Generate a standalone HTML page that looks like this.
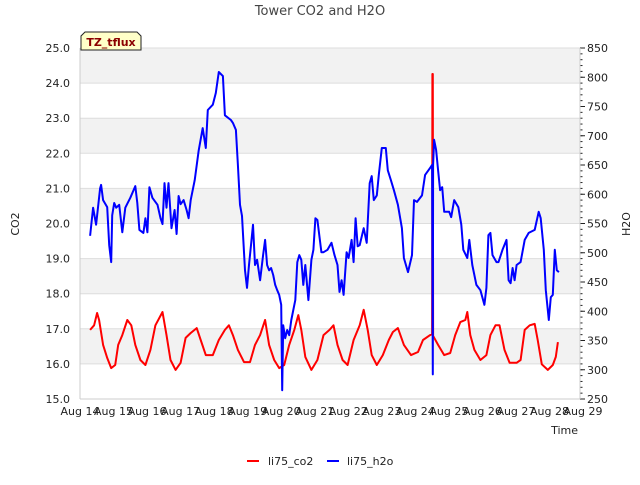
<!DOCTYPE html>
<html><head><meta charset="utf-8"><style>
body{margin:0;background:#fff;font-family:"Liberation Sans",sans-serif;}
svg text{font-family:"DejaVu Sans","Liberation Sans",sans-serif;}
</style></head><body>
<svg id="chart" width="640" height="480" viewBox="0 0 640 480">
<text x="320" y="15" text-anchor="middle" font-size="13" fill="#444">Tower CO2 and H2O</text>
<g id="bands"></g>
<g id="grid"></g>
<g id="series"></g>
<g id="axes"></g>
<text transform="translate(19,224) rotate(-90)" text-anchor="middle" font-size="11" fill="#222">CO2</text>
<text transform="translate(630,224) rotate(-90)" text-anchor="middle" font-size="11" fill="#222">H2O</text>
<text x="578" y="434" text-anchor="end" font-size="11" fill="#222">Time</text>
<g>
<path d="M81,50 L81,36 L85,32 L137,32 L141,36 L141,50 Z" fill="#ffffc8" stroke="#222" stroke-width="1"/>
<text x="111" y="46" text-anchor="middle" font-size="11" font-weight="bold" fill="#8b0000">TZ_tflux</text>
</g>
<g>
<g><line x1="247" y1="461" x2="259" y2="461" stroke="#f00" stroke-width="2"/><text x="268" y="465" font-size="11" fill="#222">li75_co2</text></g>
<g><line x1="327" y1="461" x2="339" y2="461" stroke="#00f" stroke-width="2"/><text x="347" y="465" font-size="11" fill="#222">li75_h2o</text></g>
</g>
</svg>
<script>
const xTickLabels=["Aug 14","Aug 15","Aug 16","Aug 17","Aug 18","Aug 19","Aug 20","Aug 21","Aug 22","Aug 23","Aug 24","Aug 25","Aug 26","Aug 27","Aug 28","Aug 29"];
const co2Ticks=[15,16,17,18,19,20,21,22,23,24,25];
const h2oTicks=[250,300,350,400,450,500,550,600,650,700,750,800,850];
const h2oDays=[0.30,0.39,0.48,0.60,0.63,0.69,0.81,0.87,0.93,0.96,1.02,1.08,1.17,1.26,1.35,1.50,1.65,1.71,1.77,1.89,1.95,2.01,2.07,2.16,2.31,2.40,2.46,2.52,2.58,2.64,2.73,2.82,2.88,2.94,3.00,3.09,3.18,3.24,3.30,3.42,3.54,3.66,3.75,3.81,3.96,4.05,4.14,4.26,4.32,4.50,4.56,4.65,4.71,4.77,4.83,4.92,4.98,5.04,5.10,5.16,5.22,5.28,5.37,5.46,5.52,5.58,5.64,5.70,5.76,5.82,5.88,5.94,6.00,6.03,6.06,6.12,6.18,6.24,6.30,6.42,6.48,6.54,6.60,6.66,6.72,6.81,6.90,6.96,7.02,7.08,7.20,7.26,7.38,7.50,7.59,7.68,7.74,7.80,7.86,7.95,8.01,8.10,8.16,8.22,8.28,8.34,8.46,8.55,8.64,8.70,8.76,8.85,8.91,9.00,9.12,9.18,9.27,9.36,9.48,9.60,9.66,9.78,9.90,9.96,10.05,10.20,10.29,10.44,10.50,10.52,10.53,10.56,10.62,10.68,10.74,10.80,10.86,10.92,11.01,11.07,11.16,11.28,11.37,11.43,11.55,11.61,11.70,11.82,11.94,12.06,12.12,12.18,12.24,12.30,12.42,12.48,12.60,12.72,12.78,12.84,12.90,12.96,13.02,13.14,13.26,13.38,13.56,13.68,13.74,13.83,13.89,13.98,14.04,14.10,14.16,14.22,14.28];
const h2oValues=[529,577,548,610,616,590,578,513,484,564,585,577,582,535,577,594,614,585,539,534,559,535,612,594,582,559,549,619,577,619,542,573,532,597,583,590,573,559,590,624,675,713,679,744,753,773,809,802,735,727,722,710,650,582,563,470,440,479,513,548,479,488,453,496,522,479,470,474,462,445,436,428,411,265,376,354,368,359,385,419,484,496,488,445,479,419,488,505,559,556,501,501,505,517,496,479,433,453,428,501,491,522,484,559,511,513,542,517,619,631,590,598,633,679,679,641,624,607,582,542,491,467,496,590,587,598,633,645,650,292,650,693,676,641,607,612,570,570,570,561,590,578,548,505,491,522,479,445,436,411,440,530,534,496,484,484,505,522,453,448,474,453,479,484,522,534,539,570,559,505,436,385,424,428,505,470,467];
const co2Days=[0.30,0.42,0.51,0.57,0.69,0.81,0.93,1.05,1.14,1.26,1.41,1.53,1.65,1.80,1.95,2.10,2.25,2.46,2.58,2.70,2.85,3.00,3.15,3.30,3.48,3.60,3.75,3.96,4.14,4.32,4.44,4.56,4.71,4.89,5.07,5.22,5.37,5.52,5.64,5.79,5.94,6.09,6.24,6.39,6.51,6.60,6.72,6.90,7.08,7.26,7.44,7.56,7.68,7.83,7.98,8.16,8.34,8.46,8.58,8.70,8.85,9.03,9.21,9.33,9.48,9.66,9.87,10.08,10.23,10.44,10.50,10.51,10.52,10.53,10.68,10.86,11.04,11.19,11.34,11.49,11.55,11.64,11.76,11.94,12.12,12.24,12.39,12.51,12.66,12.81,13.02,13.14,13.26,13.41,13.56,13.65,13.77,13.95,14.10,14.19,14.25];
const co2Values=[16.97,17.10,17.45,17.25,16.54,16.17,15.88,15.97,16.54,16.82,17.25,17.10,16.54,16.11,15.97,16.40,17.10,17.48,16.82,16.11,15.83,16.03,16.74,16.88,17.02,16.68,16.25,16.25,16.68,16.97,17.10,16.82,16.40,16.05,16.05,16.54,16.82,17.25,16.54,16.11,15.88,15.97,16.54,16.97,17.39,16.97,16.20,15.83,16.11,16.82,16.97,17.10,16.54,16.11,15.97,16.68,17.10,17.54,16.97,16.25,15.97,16.25,16.68,16.91,17.02,16.54,16.25,16.34,16.68,16.82,16.85,24.26,24.26,16.80,16.54,16.25,16.31,16.82,17.19,17.25,17.48,16.82,16.40,16.11,16.25,16.82,17.10,17.10,16.40,16.03,16.03,16.11,16.97,17.10,17.14,16.68,15.99,15.83,15.97,16.20,16.62];

const L=80,R=580,T=48,B=399,NS="http://www.w3.org/2000/svg";
const xScale=d=>L+d*(R-L+3)/15;
const yCO2=v=>B-(v-15)*(B-T)/10;
const yH2O=v=>B-(v-250)*(B-T)/600;
function mk(tag,attrs,parent){const e=document.createElementNS(NS,tag);for(const k in attrs)e.setAttribute(k,attrs[k]);parent.appendChild(e);return e;}
const bands=document.getElementById('bands'),grid=document.getElementById('grid'),axes=document.getElementById('axes'),series=document.getElementById('series');
for(let i=0;i<co2Ticks.length-1;i++){
  if((co2Ticks.length-2-i)%2===0){const r=mk('rect',{x:L,y:yCO2(co2Ticks[i+1]),width:R-L,height:yCO2(co2Ticks[i])-yCO2(co2Ticks[i+1]),fill:'#f2f2f2'},bands);
  
  }
}
co2Ticks.forEach(v=>{
  const y=yCO2(v);
  const g=mk('line',{x1:L,x2:R,y1:y,y2:y,stroke:'#ddd','stroke-width':1},grid);
  
  
  const t=mk('text',{x:L-10,y:y+4,'text-anchor':'end','font-size':11,fill:'#222'},axes);t.textContent=v.toFixed(1);
  
  
});
h2oTicks.forEach(v=>{
  const y=yH2O(v);
  mk('line',{x1:R,x2:R+5,y1:y,y2:y,stroke:'#222'},axes);
  const t=mk('text',{x:R+7,y:y+4,'font-size':11,fill:'#222'},axes);t.textContent=v;
  
  
});
for(let v=h2oTicks[0];v<=h2oTicks[h2oTicks.length-1];v+=10){const y=yH2O(v);mk('line',{x1:R,x2:R+2.5,y1:y,y2:y,stroke:'#222'},axes);}
mk('line',{x1:L,x2:L,y1:T,y2:B,stroke:'#ccc'},axes);
mk('line',{x1:R,x2:R,y1:T,y2:B,stroke:'#ccc'},axes);
mk('line',{x1:L,x2:R,y1:B,y2:B,stroke:'#ccc'},axes);
xTickLabels.forEach((s,i)=>{
  const x=xScale(i);
  const t=mk('text',{x:x,y:B+16,'text-anchor':'middle','font-size':11,fill:'#222'},axes);t.textContent=s;
  
  
});
const co2Line=mk('polyline',{points:co2Days.map((d,i)=>xScale(d).toFixed(1)+','+yCO2(co2Values[i]).toFixed(1)).join(' '),fill:'none',stroke:'#f00','stroke-width':2,'stroke-linejoin':'round'},series);


const h2oLine=mk('polyline',{points:h2oDays.map((d,i)=>xScale(d).toFixed(1)+','+yH2O(h2oValues[i]).toFixed(1)).join(' '),fill:'none',stroke:'#00f','stroke-width':2,'stroke-linejoin':'round'},series);


</script>
</body></html>
